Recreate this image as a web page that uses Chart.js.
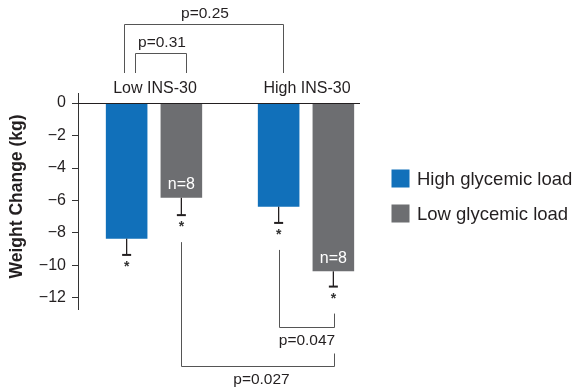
<!DOCTYPE html>
<html>
<head>
<meta charset="utf-8">
<script src="https://cdn.jsdelivr.net/npm/chart.js@4"></script>
<style>
html,body{margin:0;padding:0;background:#fff;}
#wrap{width:575px;height:389px;position:relative;}
</style>
</head>
<body>
<div id="wrap"><canvas id="c" width="575" height="389"></canvas></div>
<script>
// ---- data ----
const categories = ['Low INS-30', 'High INS-30'];
const seriesNames = ['High glycemic load', 'Low glycemic load'];
const highGL = [-8.35, -6.38];
const lowGL = [-5.83, -10.36];
const highGLErr = [-9.35, -7.38];
const lowGLErr = [-6.9, -11.3];
const nLabels = [[null, null], ['n=8', 'n=8']];
const tickValues = [0, -2, -4, -6, -8, -10, -12];
const colors = ['#1170ba', '#6d6e71'];
const topBrackets = [
  {label: 'p=0.31', from: [0, 0], to: [1, 0]},
  {label: 'p=0.25', from: [0, 0], to: [0, 1]}
];
const bottomBrackets = [
  {label: 'p=0.047', from: [0, 1], to: [1, 1]},
  {label: 'p=0.027', from: [1, 0], to: [1, 1]}
];

const TXT = '#231f20';
const FONT = '"Liberation Sans", Arial, Helvetica, sans-serif';

const annot = {
  id: 'annot',
  afterDatasetsDraw(chart) {
    const ctx = chart.ctx;
    const y = chart.scales.y, x = chart.scales.x;
    const ca = chart.chartArea;
    const errs = [highGLErr, lowGLErr];
    const bx = (ds, i) => chart.getDatasetMeta(ds).data[i].x;
    ctx.save();
    // zero line
    ctx.strokeStyle = TXT; ctx.lineWidth = 1;
    const y0 = Math.round(y.getPixelForValue(0)) + 0.5;
    ctx.beginPath(); ctx.moveTo(ca.left, y0); ctx.lineTo(360, y0); ctx.stroke();
    // error bars + stars + n labels
    [highGL, lowGL].forEach((vals, ds) => {
      vals.forEach((v, i) => {
        const cx = bx(ds, i);
        const yb = y.getPixelForValue(v);
        const ye = y.getPixelForValue(errs[ds][i]);
        ctx.strokeStyle = TXT; ctx.lineWidth = 1.3;
        ctx.beginPath(); ctx.moveTo(cx, yb); ctx.lineTo(cx, ye); ctx.stroke();
        ctx.lineWidth = 2;
        ctx.beginPath(); ctx.moveTo(cx - 4.5, ye); ctx.lineTo(cx + 4.5, ye); ctx.stroke();
        ctx.fillStyle = '#333';
        ctx.font = 'bold 14px ' + FONT;
        ctx.textAlign = 'center'; ctx.textBaseline = 'alphabetic';
        ctx.fillText('*', cx, ye + 16);
        const nl = nLabels[ds][i];
        if (nl) {
          ctx.fillStyle = '#fff';
          ctx.font = '16px ' + FONT;
          ctx.textBaseline = 'middle';
          ctx.fillText(nl, cx, yb - 13);
        }
      });
    });
    // category labels
    ctx.fillStyle = TXT; ctx.font = '16px ' + FONT;
    ctx.textAlign = 'center'; ctx.textBaseline = 'middle';
    categories.forEach((c, i) => ctx.fillText(c, x.getPixelForValue(i) + 1, 89));
    // top brackets
    ctx.strokeStyle = '#555'; ctx.lineWidth = 1;
    const tb = [{l: 8, r: 5, top: 53.5}, {l: -3, r: 4, top: 24.5}];
    topBrackets.forEach((b, k) => {
      const x1 = Math.round(bx(b.from[0], b.from[1]) + tb[k].l) + 0.5;
      const x2 = Math.round(bx(b.to[0], b.to[1]) + tb[k].r) + 0.5;
      const t = tb[k].top, bot = 73;
      ctx.beginPath(); ctx.moveTo(x1, bot); ctx.lineTo(x1, t); ctx.lineTo(x2, t); ctx.lineTo(x2, bot); ctx.stroke();
      ctx.fillStyle = TXT; ctx.font = '15.5px ' + FONT;
      ctx.textAlign = 'center'; ctx.textBaseline = 'middle';
      ctx.fillText(b.label, (x1 + x2) / 2 + 1, t - 11);
    });
    // bottom brackets
    const bb = [{bot: 327.5}, {bot: 366.5}];
    bottomBrackets.forEach((b, k) => {
      const x1 = Math.round(bx(b.from[0], b.from[1])) + 0.5;
      const x2 = Math.round(bx(b.to[0], b.to[1]) + 1) + 0.5;
      const s1 = y.getPixelForValue(errs[b.from[0]][b.from[1]]) + 27;
      const s2 = y.getPixelForValue(errs[b.to[0]][b.to[1]]) + 27;
      const s2b = k === 0 ? s2 : bb[k].bot - 13;
      ctx.strokeStyle = '#555';
      ctx.beginPath(); ctx.moveTo(x1, s1); ctx.lineTo(x1, bb[k].bot); ctx.lineTo(x2, bb[k].bot); ctx.lineTo(x2, s2b); ctx.stroke();
      ctx.fillStyle = TXT; ctx.font = '15.5px ' + FONT;
      ctx.textAlign = 'center'; ctx.textBaseline = 'middle';
      const tx = k === 0 ? (x1 + x2) / 2 : (x1 + x2) / 2 + 3.5;
      ctx.fillText(b.label, tx, bb[k].bot + 13);
    });
    // legend
    seriesNames.forEach((n, i) => {
      const ly = 169.5 + i * 35;
      ctx.fillStyle = colors[i];
      ctx.fillRect(391.5, ly, 18, 18);
      ctx.fillStyle = TXT; ctx.font = '18.5px ' + FONT;
      ctx.textAlign = 'left'; ctx.textBaseline = 'middle';
      ctx.fillText(n, 417, ly + 10);
    });
    // y title
    ctx.save();
    ctx.translate(17, 196.5);
    ctx.rotate(-Math.PI / 2);
    ctx.fillStyle = TXT; ctx.font = 'bold 17.5px ' + FONT;
    ctx.textAlign = 'center'; ctx.textBaseline = 'middle';
    ctx.fillText('Weight Change (kg)', 0, 0);
    ctx.restore();
    ctx.restore();
  }
};

new Chart(document.getElementById('c'), {
  type: 'bar',
  data: {
    labels: categories,
    datasets: [
      {label: seriesNames[0], data: highGL, backgroundColor: colors[0], borderWidth: 0},
      {label: seriesNames[1], data: lowGL, backgroundColor: colors[1], borderWidth: 0}
    ]
  },
  options: {
    responsive: false,
    animation: false,
    devicePixelRatio: 1,
    layout: {padding: {left: 0, top: 93, right: 193, bottom: 80}},
    categoryPercentage: 0.72,
    barPercentage: 0.76,
    plugins: {legend: {display: false}, tooltip: {enabled: false}},
    scales: {
      x: {display: false},
      y: {
        min: -12.68, max: 0.62,
        afterBuildTicks: s => { s.ticks = tickValues.map(v => ({value: v})); },
        afterFit: s => { s.width = 78; },
        grid: {drawOnChartArea: false, drawTicks: true, tickLength: 6, color: '#333'},
        border: {display: true, color: '#333', width: 1},
        ticks: {
          padding: 6, color: TXT,
          font: {family: FONT, size: 16},
          callback: v => (v < 0 ? '\u2212' + Math.abs(v) : String(v))
        }
      }
    }
  },
  plugins: [annot]
});
</script>
</body>
</html>
